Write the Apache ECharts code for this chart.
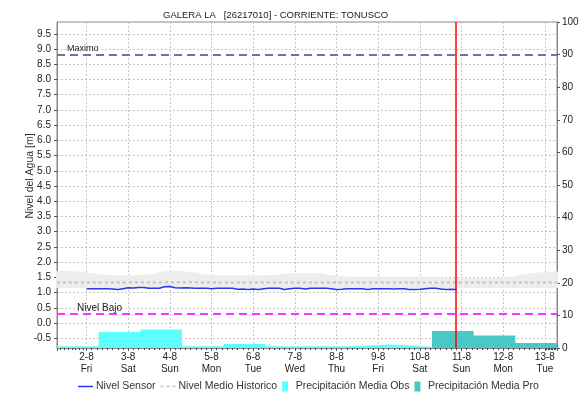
<!DOCTYPE html>
<html>
<head>
<meta charset="utf-8">
<title>GALERA LA - TONUSCO</title>
<script src="https://cdn.jsdelivr.net/npm/echarts@6.0.0/dist/echarts.min.js"></script>
<style>
  html, body { margin: 0; padding: 0; background: #fff; }
  #nivel { width: 585px; height: 403px; }
</style>
</head>
<body>
<div id="nivel"></div>
<script>
const horaMs = 3600 * 1000;

// nivel sensor [m], cada 3 h desde 2-8 00:00
const sensorInicio = new Date(2024, 7, 2, 0).getTime();
const nivelSensor = [
  1.13, 1.13, 1.13, 1.13, 1.13, 1.12, 1.10, 1.13, 1.16, 1.15, 1.17, 1.17,
  1.14, 1.14, 1.14, 1.19, 1.20, 1.16, 1.15, 1.16, 1.15, 1.14, 1.14, 1.14,
  1.13, 1.14, 1.14, 1.14, 1.14, 1.11, 1.12, 1.10, 1.12, 1.10, 1.13, 1.14,
  1.14, 1.14, 1.10, 1.13, 1.14, 1.14, 1.12, 1.14, 1.14, 1.14, 1.14, 1.13,
  1.10, 1.11, 1.13, 1.13, 1.13, 1.13, 1.10, 1.13, 1.13, 1.13, 1.13, 1.12,
  1.13, 1.13, 1.10, 1.10, 1.11, 1.13, 1.14, 1.14, 1.12, 1.10, 1.11, 1.10
];

// historico, cada 12 h desde 1-8 00:00
const histInicio = new Date(2024, 7, 1, 0).getTime();
const nivelMedio = [
  1.33, 1.33, 1.33, 1.33, 1.33, 1.33, 1.34, 1.34, 1.33, 1.33, 1.33, 1.33, 1.33,
  1.33, 1.33, 1.33, 1.33, 1.33, 1.33, 1.33, 1.33, 1.33, 1.33, 1.33, 1.33, 1.33
];
const bandaMin = [
  1.15, 1.15, 1.15, 1.15, 1.15, 1.15, 1.16, 1.16, 1.15, 1.15, 1.15, 1.15, 1.15,
  1.15, 1.15, 1.15, 1.15, 1.15, 1.15, 1.15, 1.15, 1.15, 1.15, 1.15, 1.15, 1.15
];
const bandaMax = [
  1.71, 1.71, 1.66, 1.58, 1.57, 1.60, 1.71, 1.68, 1.58, 1.57, 1.57, 1.58, 1.64,
  1.64, 1.55, 1.52, 1.52, 1.52, 1.52, 1.50, 1.47, 1.47, 1.49, 1.60, 1.68, 1.70
];

// precipitacion [mm], dia hidrologico desde las 07:00
const precipObsDias = [1, 2, 3, 4, 5, 6, 7, 8, 9, 10];
const precipObs = [0.5, 4.9, 5.7, 0.5, 1.2, 0.5, 0.5, 1.1, 0.5];
const precipProDias = [10, 11, 12, 13];
const precipPro = [5.2, 3.8, 1.5];

const nivelMaximo = 8.83;
const nivelBajoRef = 0.29;
const ahora = new Date(2024, 7, 10, 20, 40).getTime();

const ticksNivel = [-0.5, 0, 0.5, 1, 1.5, 2, 2.5, 3, 3.5, 4, 4.5, 5, 5.5, 6, 6.5, 7, 7.5, 8, 8.5, 9, 9.5];
const diasSemana = ['Sun', 'Mon', 'Tue', 'Wed', 'Thu', 'Fri', 'Sat'];

function pasos(serie, inicio, paso) {
  return serie.map((v, i) => [inicio + i * paso, v]);
}
function escalones(dias, valores) {
  return dias.map((d, i) => [new Date(2024, 7, d, 7).getTime(), valores[Math.min(i, valores.length - 1)]]);
}

// iconos de la leyenda
const iconoLinea = 'path://M0,0h16v1.6h-16z';
const iconoPuntos = 'path://M0,0h3v1.6h-3zM6,0h3v1.6h-3zM12,0h3v1.6h-3z';
const iconoCaja = 'path://M0,0h6v10h-6z';

let myChart = echarts.init(document.getElementById('nivel'));
let option = {
  animation: false,
  textStyle: { fontFamily: 'Liberation Sans, Arial, sans-serif' },
  title: {
    text: 'GALERA LA   [26217010] - CORRIENTE: TONUSCO',
    left: 158,
    top: 5,
    textStyle: { fontSize: 9.5, fontWeight: 'normal', color: '#222' }
  },
  grid: {
    left: 57, right: 28, top: 22, bottom: 55,
    show: true, borderColor: '#888', borderWidth: 1
  },
  legend: {
    left: 73,
    bottom: 6,
    itemWidth: 15,
    itemHeight: 10,
    itemGap: 5,
    textStyle: { fontSize: 10.5, color: '#333', padding: [0, 0, 0, -2] },
    data: [
      { name: 'Nivel Sensor', icon: iconoLinea },
      { name: 'Nivel Medio Historico', icon: iconoPuntos },
      { name: 'Precipitación Media Obs', icon: iconoCaja },
      { name: 'Precipitación Media Pro', icon: iconoCaja }
    ]
  },
  xAxis: {
    type: 'time',
    min: new Date(2024, 7, 1, 7).getTime(),
    max: new Date(2024, 7, 13, 7).getTime(),
    splitNumber: 12,
    minInterval: 24 * horaMs,
    maxInterval: 24 * horaMs,
    axisLine: { onZero: false, lineStyle: { color: '#888' } },
    axisTick: { show: true, length: 3, lineStyle: { color: '#555' } },
    minorTick: { show: true, splitNumber: 8, length: 2, lineStyle: { color: '#444' } },
    splitLine: { show: true, lineStyle: { type: [2, 2], color: '#c8c8c8' } },
    axisLabel: {
      showMinLabel: false,
      showMaxLabel: false,
      fontSize: 10,
      lineHeight: 12,
      color: '#222',
      margin: 3,
      formatter: function (val) {
        let d = new Date(val);
        if (d.getHours() !== 0) return '';
        return d.getDate() + '-' + (d.getMonth() + 1) + '\n' + diasSemana[d.getDay()];
      }
    }
  },
  yAxis: [
    {
      type: 'value',
      position: 'left',
      min: -0.82,
      max: 9.89,
      name: 'Nivel del Agua [m]',
      nameLocation: 'middle',
      nameGap: 21,
      nameMoveOverlap: false,
      nameTextStyle: { fontSize: 10.5, color: '#333', padding: [0, 0, 0, 18] },
      axisLine: { show: true, lineStyle: { color: '#888' } },
      axisTick: { show: true, length: 3, customValues: ticksNivel, lineStyle: { color: '#555' } },
      axisLabel: { customValues: ticksNivel, fontSize: 10, color: '#222', margin: 6, formatter: v => v.toFixed(1) },
      splitLine: { show: true, customValues: ticksNivel, lineStyle: { type: [2, 2], color: '#c8c8c8' } }
    },
    {
      type: 'value',
      position: 'right',
      min: 0,
      max: 100,
      interval: 10,
      axisLine: { show: true, lineStyle: { color: '#888' } },
      axisTick: { show: true, length: 3, lineStyle: { color: '#555' } },
      axisLabel: { fontSize: 10, color: '#222', margin: 5 },
      splitLine: { show: false }
    }
  ],
  series: [
    {
      name: 'Precipitación Media Obs',
      type: 'line',
      yAxisIndex: 1,
      step: 'end',
      symbol: 'none',
      color: '#5effff',
      lineStyle: { width: 0 },
      areaStyle: { color: '#5effff', opacity: 1 },
      data: escalones(precipObsDias, precipObs)
    },
    {
      name: 'Precipitación Media Pro',
      type: 'line',
      yAxisIndex: 1,
      step: 'end',
      symbol: 'none',
      color: '#48c8c6',
      lineStyle: { width: 0 },
      areaStyle: { color: '#48c8c6', opacity: 1 },
      data: escalones(precipProDias, precipPro)
    },
    // banda historica (min-max)
    {
      name: 'bandaBase',
      type: 'line',
      stack: 'banda',
      symbol: 'none',
      lineStyle: { opacity: 0 },
      data: pasos(bandaMin, histInicio, 12 * horaMs)
    },
    {
      name: 'bandaAlto',
      type: 'line',
      stack: 'banda',
      symbol: 'none',
      smooth: true,
      lineStyle: { opacity: 0 },
      areaStyle: { color: '#ededed', opacity: 1 },
      data: pasos(bandaMax.map((v, i) => +(v - bandaMin[i]).toFixed(2)), histInicio, 12 * horaMs)
    },
    {
      name: 'Nivel Medio Historico',
      type: 'line',
      symbol: 'none',
      color: '#c2c2c2',
      lineStyle: { width: 2, type: [3, 3], color: '#c2c2c2' },
      data: pasos(nivelMedio, histInicio, 12 * horaMs)
    },
    {
      name: 'Nivel Sensor',
      type: 'line',
      symbol: 'none',
      color: '#2f35e8',
      lineStyle: { width: 1.5, color: '#2f35e8' },
      data: pasos(nivelSensor, sensorInicio, 3 * horaMs),
      markLine: {
        silent: true,
        symbol: 'none',
        animation: false,
        data: [
          {
            yAxis: nivelMaximo,
            lineStyle: { color: '#6676a0', width: 2, type: [8, 5] },
            label: { show: true, position: 'insideStartTop', formatter: 'Maximo', fontSize: 9, color: '#222', distance: [10, 1] }
          },
          {
            yAxis: nivelBajoRef,
            lineStyle: { color: '#ff33ff', width: 2, type: [8, 5] },
            label: { show: true, position: 'insideStartTop', formatter: 'Nivel Bajo', fontSize: 10, color: '#222', distance: [20, 1] }
          },
          {
            xAxis: ahora,
            lineStyle: { color: '#ff0000', width: 1.5, type: 'solid' },
            label: { show: false }
          }
        ]
      }
    }
  ]
};
myChart.setOption(option);
</script>
</body>
</html>
